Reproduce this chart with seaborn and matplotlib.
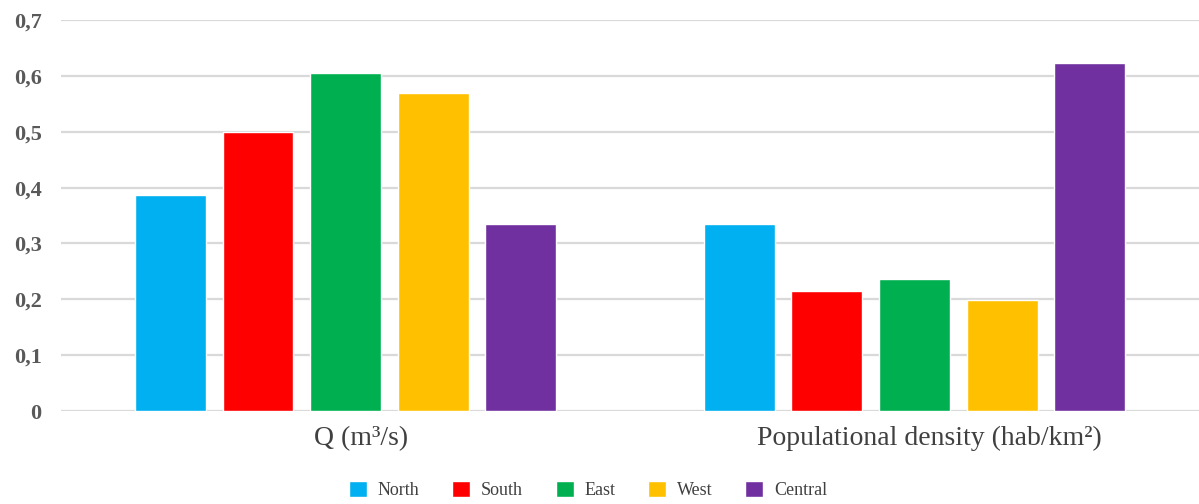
import pandas as pd
import matplotlib.pyplot as plt
import matplotlib.transforms as mtransforms
import seaborn as sns
from matplotlib.ticker import FuncFormatter, MultipleLocator

# Data
variables = ["Q (m³/s)", "Populational density (hab/km²)"]
regions = ["North", "South", "East", "West", "Central"]
q_values = [0.387, 0.499, 0.605, 0.569, 0.334]
density_values = [0.334, 0.214, 0.236, 0.198, 0.624]
colors = ["#00b0f0", "#ff0000", "#00b050", "#ffc000", "#7030a0"]

rows = []
for reg, qv, dv in zip(regions, q_values, density_values):
    rows.append({"variable": variables[0], "region": reg, "value": qv})
    rows.append({"variable": variables[1], "region": reg, "value": dv})
df = pd.DataFrame(rows)

sns.set_theme(style="white")
plt.rcParams["font.family"] = ["Liberation Serif", "DejaVu Serif"]

fig = plt.figure(figsize=(11.99, 5.04), dpi=100)
ax = fig.add_axes([0.051, 0.1845, 0.949, 0.7757])

sns.barplot(data=df, x="variable", y="value", hue="region", order=variables,
            hue_order=regions, palette=colors, width=0.77, gap=0.19,
            saturation=1, errorbar=None, ax=ax, zorder=3)

ax.set_ylim(0, 0.7)
ax.set_xlim(-0.5, 1.5)
ax.yaxis.set_major_locator(MultipleLocator(0.1))
ax.yaxis.set_major_formatter(FuncFormatter(
    lambda v, p: "0" if abs(v) < 1e-9 else f"{v:.1f}".replace(".", ",")))
ax.grid(axis="y", color="#d9d9d9", linewidth=1.6, zorder=0)
ax.set_axisbelow(True)
for s in ax.spines.values():
    s.set_visible(False)

ax.set_xlabel("")
ax.set_ylabel("")
ax.tick_params(axis="y", length=0, pad=14, labelsize=16, labelcolor="#595959")
ax.tick_params(axis="x", length=0, pad=11, labelsize=20, labelcolor="#404040")
for t in ax.get_yticklabels():
    t.set_fontweight("bold")

# category labels in the reference sit a little right of the bar groups
shift = mtransforms.ScaledTranslation(0.15, 0, fig.dpi_scale_trans)
for t in ax.get_xticklabels():
    t.set_transform(t.get_transform() + shift)

ax.legend(loc="center", bbox_to_anchor=(0.463, -0.202), ncol=5,
          frameon=False, fontsize=13, handlelength=1.0, handleheight=1.0,
          handletextpad=0.6, columnspacing=1.8, labelcolor="#404040")

fig.savefig("out.png", dpi=100)
